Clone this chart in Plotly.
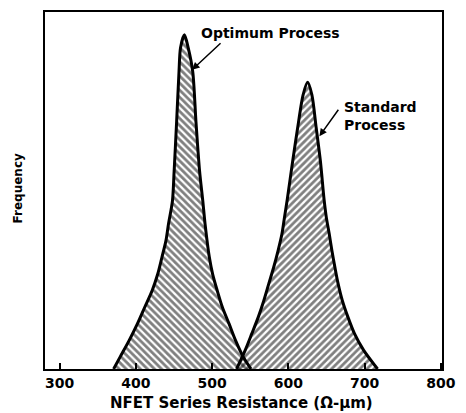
import plotly.graph_objects as go

# Optimum process distribution
opt_x = [370.7, 379.3, 391.3, 402.0, 411.5, 421.3, 428.6, 434.1, 439.3, 442.7, 447.9, 450.1,
         453.4, 456.5, 458.5, 463.6, 468.5, 474.5, 478.7, 483.5, 487.7, 490.7, 496.3,
         500.6, 506.6, 513.4, 522.1, 530.5, 540.8, 551.0]
opt_y = [0, 3.4, 8.1, 12.7, 17.3, 22.0, 26.6, 31.3, 35.9, 40.6, 47.1, 55.4,
         69.4, 83.3, 90.0, 93.6, 90.0, 83.3, 69.4, 55.4, 47.1, 40.6, 31.3,
         26.6, 22.0, 17.3, 12.7, 8.1, 3.4, 0]

# Standard process distribution
std_x = [532.0, 543.4, 552.0, 560.6, 567.8, 574.3, 580.7, 586.4, 591.5, 594.8, 598.5,
         605.6, 612.1, 619.3, 625.2, 630.8, 636.5, 642.0, 646.8, 649.8, 653.6, 657.1,
         661.0, 665.2, 670.7, 678.0, 686.7, 698.6, 717.0]
std_y = [0, 5.3, 9.9, 14.6, 19.2, 23.9, 28.5, 33.1, 37.8, 42.4, 47.5,
         58.2, 67.5, 76.8, 80.3, 76.8, 67.5, 58.2, 47.5, 42.4, 37.8, 33.1,
         28.5, 23.9, 19.2, 14.6, 9.9, 5.3, 0]

x_ticks = [300, 400, 500, 600, 700, 800]

FONT = "DejaVu Sans"

fig = go.Figure()
fig.add_trace(go.Scatter(
    x=opt_x, y=opt_y, mode="lines", fill="tozeroy",
    line=dict(color="black", width=3, shape="spline", smoothing=0.8),
    fillcolor="rgba(0,0,0,0)",
    fillpattern=dict(shape="\\", fgcolor="black", bgcolor="rgba(0,0,0,0)", size=5, solidity=0.55),
    showlegend=False, hoverinfo="skip"))
fig.add_trace(go.Scatter(
    x=std_x, y=std_y, mode="lines", fill="tozeroy",
    line=dict(color="black", width=3, shape="spline", smoothing=0.8),
    fillcolor="rgba(0,0,0,0)",
    fillpattern=dict(shape="/", fgcolor="black", bgcolor="rgba(0,0,0,0)", size=5, solidity=0.55),
    showlegend=False, hoverinfo="skip"))

fig.update_layout(
    width=466, height=413,
    margin=dict(l=45, r=16, t=10, b=44),
    paper_bgcolor="white", plot_bgcolor="white",
    font=dict(family=FONT, color="black"),
    xaxis=dict(range=[280.7, 801.5], tickvals=x_ticks, ticktext=[str(v) for v in x_ticks],
               ticks="inside", ticklen=6, tickwidth=1.5, tickcolor="black",
               showline=True, linecolor="black", linewidth=2, mirror=True,
               showgrid=False, zeroline=False,
               tickfont=dict(family=FONT, size=14, weight="bold", color="black")),
    yaxis=dict(range=[0, 100], showticklabels=False, ticks="",
               showline=True, linecolor="black", linewidth=2, mirror=True,
               showgrid=False, zeroline=False),
)

annotations = [
    dict(text="NFET Series Resistance (Ω-μm)", xref="paper", yref="paper",
         x=0.494, y=-0.095, xanchor="center", yanchor="middle", showarrow=False,
         font=dict(family=FONT, size=15, weight="bold")),
    dict(text="Frequency", xref="paper", yref="paper", textangle=-90,
         x=-0.067, y=0.507, xanchor="center", yanchor="middle", showarrow=False,
         font=dict(family=FONT, size=12, weight="bold")),
    dict(text="Optimum Process", xref="x", yref="y", x=576.5, y=94.2,
         xanchor="center", yanchor="middle", showarrow=False,
         font=dict(family=FONT, size=14, weight="bold")),
    dict(text="Standard<br>Process", xref="x", yref="y", x=670.3, y=70.75,
         xanchor="left", yanchor="middle", align="left", showarrow=False,
         font=dict(family=FONT, size=14, weight="bold")),
    dict(text="", xref="x", yref="y", x=473.6, y=83.8, ax=30, ay=-28,
         showarrow=True, arrowhead=2, arrowsize=1, arrowwidth=1.5, arrowcolor="black"),
    dict(text="", xref="x", yref="y", x=640.7, y=65.2, ax=20, ay=-28,
         showarrow=True, arrowhead=2, arrowsize=1, arrowwidth=1.5, arrowcolor="black"),
]
fig.update_layout(annotations=annotations)

fig.write_html("out.html")
